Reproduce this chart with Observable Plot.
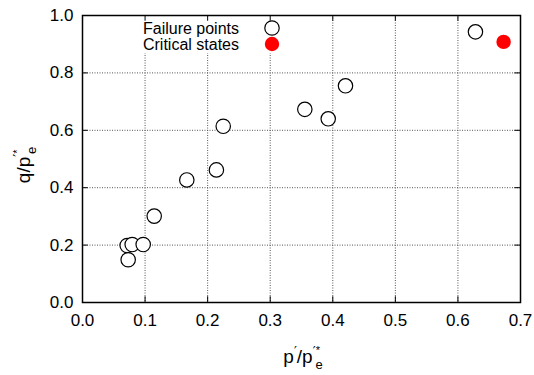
<!DOCTYPE html>
<html>
<head>
<meta charset="utf-8">
<script src="https://cdn.jsdelivr.net/npm/d3@7"></script>
<script src="https://cdn.jsdelivr.net/npm/@observablehq/plot@0.6"></script>
<style>
  html, body { margin: 0; padding: 0; background: white; }
</style>
</head>
<body>
<div id="chart"></div>
<script>
// Data
const failureP = [0.0714, 0.073, 0.0794, 0.097, 0.1146, 0.1667, 0.214, 0.2249, 0.3553, 0.3927, 0.4203, 0.628];
const failureQ = [0.1986, 0.149, 0.202, 0.202, 0.301, 0.427, 0.462, 0.614, 0.673, 0.640, 0.755, 0.943];
const criticalP = [0.673];
const criticalQ = [0.908];
const xTicks = [0, 0.1, 0.2, 0.3, 0.4, 0.5, 0.6, 0.7];
const yTicks = [0, 0.2, 0.4, 0.6, 0.8, 1.0];
const seriesNames = ["Failure points", "Critical states"];

const failure = failureP.map((p, i) => ({p, q: failureQ[i]}));
const critical = criticalP.map((p, i) => ({p, q: criticalQ[i]}));
const fmt = d3.format(".1f");
const font = "'Liberation Sans', Arial, Helvetica, sans-serif";
const primeFont = "'DejaVu Sans', sans-serif";

const chart = Plot.plot({
  width: 534,
  height: 375,
  marginLeft: 82,
  marginRight: 14,
  marginTop: 15,
  marginBottom: 73,
  x: {domain: [0, 0.7]},
  y: {domain: [0, 1]},
  style: {fontFamily: font, fontSize: "17px", background: "white", color: "black"},
  marks: [
    Plot.gridX(xTicks, {stroke: "#555", strokeOpacity: 1, strokeWidth: 1, strokeDasharray: "1,1.5"}),
    Plot.gridY(yTicks, {stroke: "#555", strokeOpacity: 1, strokeWidth: 1, strokeDasharray: "1,1.5"}),
    Plot.axisX(xTicks, {tickSize: 0, tickPadding: 11, tickFormat: fmt, label: null, fontSize: 17}),
    Plot.axisY(yTicks, {tickSize: 0, tickPadding: 9, tickFormat: fmt, label: null, fontSize: 17}),
    Plot.ruleX(xTicks, {y1: 0, y2: 0.02, stroke: "black"}),
    Plot.ruleX(xTicks, {y1: 0.98, y2: 1, stroke: "black"}),
    Plot.ruleY(yTicks, {x1: 0, x2: 0.009, stroke: "black"}),
    Plot.ruleY(yTicks, {x1: 0.691, x2: 0.7, stroke: "black"}),
    Plot.frame({stroke: "black", strokeWidth: 1.5}),
    Plot.dot(failure, {x: "p", y: "q", r: 7.2, stroke: "black", fill: "white", strokeWidth: 1.2}),
    Plot.dot(critical, {x: "p", y: "q", r: 7.2, fill: "#ff0000", stroke: "none"})
  ]
});

document.getElementById("chart").appendChild(chart);

const svg = d3.select(chart);
// legend background (opaque key box)
svg.insert("rect", "g[aria-label='rule']")
  .attr("x", 136).attr("y", 16).attr("width", 152).attr("height", 37)
  .attr("fill", "white");

const legend = svg.append("g").attr("font-family", font).attr("font-size", 16);
const legendItems = [
  {name: seriesNames[0], fill: "white", stroke: "black", y: 28},
  {name: seriesNames[1], fill: "#ff0000", stroke: "none", y: 44}
];
legendItems.forEach(d => {
  legend.append("text").attr("x", 239).attr("y", d.y).attr("dy", "0.35em")
    .attr("text-anchor", "end").attr("fill", "black").text(d.name);
  legend.append("circle").attr("cx", 272).attr("cy", d.y).attr("r", 7.2)
    .attr("fill", d.fill).attr("stroke", d.stroke).attr("stroke-width", 1.2);
});

// x axis label: p′/p′*_e
const xl = svg.append("text").attr("x", 303).attr("y", 363)
  .attr("text-anchor", "middle").attr("font-family", font).attr("font-size", 19).attr("fill", "black");
xl.append("tspan").text("p");
xl.append("tspan").attr("dy", -8).attr("font-size", 13).attr("font-family", primeFont).text("′");
xl.append("tspan").attr("dy", 8).text("/p");
xl.append("tspan").attr("dy", -8).attr("font-size", 13).attr("font-family", primeFont).text("′");
xl.append("tspan").attr("dy", -1).attr("font-size", 11).text("*");
xl.append("tspan").attr("dy", 15).attr("dx", -4.5).attr("font-size", 13).text("e");

// y axis label: q/p′*_e
const yl = svg.append("text").attr("transform", "translate(30,165) rotate(-90)")
  .attr("text-anchor", "middle").attr("font-family", font).attr("font-size", 19).attr("fill", "black");
yl.append("tspan").text("q/p");
yl.append("tspan").attr("dy", -8).attr("font-size", 13).attr("font-family", primeFont).text("′");
yl.append("tspan").attr("dy", -1).attr("font-size", 11).text("*");
yl.append("tspan").attr("dy", 15).attr("dx", -4.5).attr("font-size", 13).text("e");
</script>
</body>
</html>
